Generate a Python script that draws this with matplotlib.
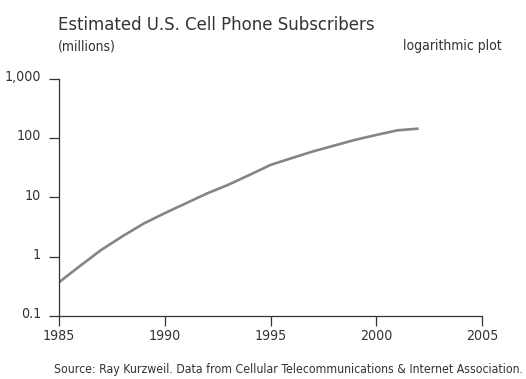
import matplotlib
matplotlib.use("Agg")
import matplotlib.pyplot as plt
import matplotlib.transforms as mtrans

years = [1985, 1986, 1987, 1988, 1989, 1990, 1991, 1992, 1993, 1994, 1995,
         1996, 1997, 1998, 1999, 2000, 2001, 2002]
subscribers = [0.37, 0.70, 1.3, 2.2, 3.6, 5.4, 7.9, 11.6, 16.2, 23.7, 35,
               45.6, 59, 74, 92.6, 112, 134, 143]
ytick_vals = [0.1, 1, 10, 100, 1000]
ytick_labels = ["0.1", "1", "10", "100", "1,000"]
xtick_vals = [1985, 1990, 1995, 2000, 2005]

plt.rcParams['font.family'] = ['DejaVu Sans']
plt.rcParams['font.stretch'] = 'condensed'
TXT = '#333333'

fig = plt.figure(figsize=(5.26, 3.79), dpi=100)
ax = fig.add_axes([59/526, 1-316/379, (482-59)/526, (316-78.5)/379])
ax.plot(years, subscribers, color='#858585', lw=1.9, solid_capstyle='butt')
ax.set_yscale('log')
ax.set_ylim(0.1, 1000)
ax.set_xlim(1985, 2005)
ax.set_yticks(ytick_vals)
ax.set_yticklabels(ytick_labels)
ax.minorticks_off()
ax.set_xticks(xtick_vals)
ax.set_xticklabels([str(v) for v in xtick_vals])
for s in ['top', 'right']:
    ax.spines[s].set_visible(False)
for s in ['left', 'bottom']:
    ax.spines[s].set_color('#333333')
    ax.spines[s].set_linewidth(0.9)
ax.tick_params(axis='both', direction='out', length=7, width=0.9, color='#333333',
               labelsize=10.2, labelcolor=TXT)
ax.tick_params(axis='x', pad=2.5)
ax.tick_params(axis='y', pad=6)
shift = mtrans.ScaledTranslation(0, 3/100, fig.dpi_scale_trans)
for lab in ax.get_yticklabels():
    lab.set_transform(lab.get_transform() + shift)

fig.text(58/526, 1-29.5/379, "Estimated U.S. Cell Phone Subscribers", fontsize=13.2,
         color=TXT, ha='left', va='baseline')
fig.text(58/526, 1-50/379, "(millions)", fontsize=10, color=TXT, ha='left', va='baseline')
fig.text(502/526, 1-50/379, "logarithmic plot", fontsize=10, color=TXT, ha='right', va='baseline')
fig.text(288/526, 1-373/379,
         "Source: Ray Kurzweil. Data from Cellular Telecommunications & Internet Association.",
         fontsize=8.8, color=TXT, ha='center', va='baseline')

fig.savefig("out.png", dpi=100)
